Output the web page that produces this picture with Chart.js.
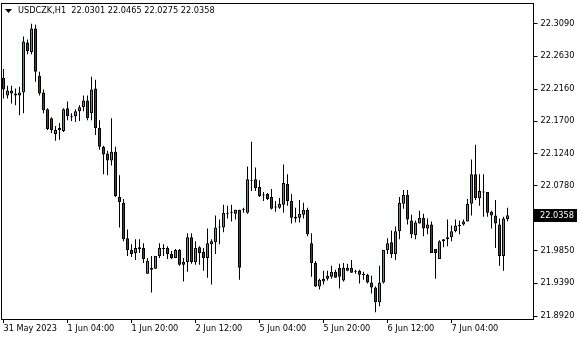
<!DOCTYPE html>
<html>
<head>
<meta charset="utf-8">
<script src="https://cdn.jsdelivr.net/npm/chart.js@4.4.0/dist/chart.umd.min.js"></script>
<style>
  html, body { margin: 0; padding: 0; background: #fff; }
  canvas { display: block; }
</style>
</head>
<body>
<canvas id="chart" width="580" height="340"></canvas>
<script>
const symbol = 'USDCZK,H1';

// hourly bars from 31 May 2023 12:00 (weekend skipped)
const opens = [
  22.2322, 22.2068, 22.2139, 22.2096, 22.2068, 22.2110, 22.2827, 22.2687, 22.3024, 22.2350,
  22.2110, 22.1871, 22.1745, 22.1520, 22.1576, 22.1562, 22.1885, 22.1773, 22.1773, 22.1843,
  22.1900, 22.1998, 22.1815, 22.2167, 22.1604, 22.1337, 22.1239, 22.1141, 22.1267, 22.0620,
  22.0536, 22.0030, 21.9862, 21.9820, 21.9904, 21.9890, 21.9525, 21.9609, 21.9595, 21.9777,
  21.9876, 21.9890, 21.9806, 21.9749, 21.9862, 21.9651, 21.9693, 22.0044, 21.9693, 21.9904,
  21.9834, 21.9749, 21.9946, 21.9974, 22.0185, 22.0185, 22.0396, 22.0396, 22.0382, 22.0438,
  22.0452, 22.0396, 22.0860, 22.0874, 22.0761, 22.0648, 22.0662, 22.0620, 22.0480, 22.0466,
  22.0508, 22.0804, 22.0564, 22.0339, 22.0325, 22.0368, 22.0438, 21.9960, 21.9679, 21.9342,
  21.9412, 21.9454, 21.9482, 21.9553, 21.9609, 21.9426, 21.9567, 21.9609, 21.9567, 21.9567,
  21.9510, 21.9510, 21.9398, 21.9327, 21.9116, 21.9398, 21.9862, 21.9974, 21.9806, 22.0129,
  22.0522, 22.0648, 22.0283, 22.0073, 22.0241, 22.0325, 22.0171, 22.0227, 21.9876, 21.9735,
  21.9988, 22.0016, 22.0044, 22.0129, 22.0213, 22.0227, 22.0269, 22.0522, 22.0944, 22.0606,
  22.0691, 22.0691, 22.0410, 22.0354, 22.0227, 21.9777, 22.0301
];
const highs = [
  22.2448, 22.2209, 22.2209, 22.2167, 22.2195, 22.2912, 22.2869, 22.3094, 22.3080, 22.2406,
  22.2153, 22.1885, 22.1759, 22.1633, 22.1675, 22.1885, 22.1984, 22.1815, 22.1871, 22.1928,
  22.2068, 22.2068, 22.2336, 22.2293, 22.1717, 22.1351, 22.1281, 22.1745, 22.1337, 22.0930,
  22.0592, 22.0157, 21.9946, 22.0016, 22.0016, 21.9960, 21.9749, 21.9777, 21.9777, 21.9960,
  21.9946, 21.9918, 21.9848, 21.9876, 21.9876, 21.9749, 22.0101, 22.0101, 21.9988, 21.9918,
  21.9890, 22.0171, 22.0016, 22.0354, 22.0297, 22.0508, 22.0494, 22.0508, 22.0438, 22.0438,
  22.0466, 22.1056, 22.1408, 22.1042, 22.0860, 22.0691, 22.0677, 22.0733, 22.0564, 22.0606,
  22.1084, 22.0944, 22.0662, 22.0466, 22.0578, 22.0536, 22.0466, 22.0101, 21.9707, 21.9454,
  21.9567, 21.9567, 21.9637, 21.9581, 21.9665, 21.9679, 21.9665, 21.9721, 21.9581, 21.9581,
  21.9553, 21.9525, 21.9496, 21.9342, 21.9637, 21.9862, 22.0030, 22.0143, 22.0199, 22.0620,
  22.0719, 22.0719, 22.0368, 22.0283, 22.0424, 22.0382, 22.0311, 22.0269, 21.9876, 22.0002,
  22.0016, 22.0297, 22.0213, 22.0297, 22.0283, 22.0297, 22.0592, 22.1155, 22.1365, 22.0944,
  22.0944, 22.0691, 22.0424, 22.0578, 22.0311, 22.0339, 22.0465
];
const lows = [
  22.2026, 22.2026, 22.1956, 22.1928, 22.1787, 22.1815, 22.2659, 22.2659, 22.2265, 22.2068,
  22.1815, 22.1576, 22.1534, 22.1422, 22.1436, 22.1548, 22.1717, 22.1703, 22.1689, 22.1703,
  22.1843, 22.1717, 22.1717, 22.1506, 22.1295, 22.0944, 22.0930, 22.1070, 22.0620, 22.0185,
  21.9988, 21.9777, 21.9763, 21.9721, 21.9820, 21.9679, 21.9525, 21.9257, 21.9595, 21.9749,
  21.9777, 21.9735, 21.9735, 21.9749, 21.9637, 21.9412, 21.9553, 21.9665, 21.9651, 21.9651,
  21.9567, 21.9468, 21.9370, 21.9806, 21.9946, 22.0115, 22.0311, 22.0269, 22.0297, 21.9440,
  22.0396, 22.0382, 22.0705, 22.0705, 22.0620, 22.0564, 22.0578, 22.0440, 22.0410, 22.0452,
  22.0396, 22.0494, 22.0241, 22.0255, 22.0255, 22.0311, 22.0058, 21.9482, 21.9335, 21.9299,
  21.9370, 21.9426, 21.9454, 21.9468, 21.9313, 21.9412, 21.9560, 21.9539, 21.9525, 21.9384,
  21.9440, 21.9384, 21.9243, 21.8976, 21.9060, 21.9384, 21.9806, 21.9749, 21.9721, 22.0016,
  22.0452, 22.0227, 22.0030, 22.0016, 22.0241, 22.0058, 22.0087, 21.9820, 21.9454, 21.9735,
  21.9904, 21.9918, 21.9988, 22.0115, 22.0087, 22.0213, 22.0269, 22.0354, 22.0578, 22.0494,
  22.0339, 22.0339, 22.0171, 21.9890, 21.9637, 21.9567, 22.0275
];
const closes = [
  22.2153, 22.2139, 22.2096, 22.2068, 22.2110, 22.2841, 22.2701, 22.3024, 22.2406, 22.2096,
  22.1857, 22.1590, 22.1576, 22.1576, 22.1604, 22.1871, 22.1773, 22.1759, 22.1843, 22.1900,
  22.1998, 22.1745, 22.2153, 22.1604, 22.1337, 22.1225, 22.1141, 22.1267, 22.0634, 22.0550,
  22.0016, 21.9862, 21.9806, 21.9890, 21.9876, 21.9735, 21.9707, 21.9581, 21.9777, 21.9890,
  21.9890, 21.9806, 21.9749, 21.9862, 21.9651, 21.9693, 22.0044, 21.9693, 21.9890, 21.9820,
  21.9749, 21.9960, 21.9988, 22.0185, 22.0190, 22.0396, 22.0382, 22.0410, 22.0438, 21.9609,
  22.0438, 22.0874, 22.0846, 22.0747, 22.0634, 22.0640, 22.0592, 22.0452, 22.0470, 22.0522,
  22.0818, 22.0564, 22.0325, 22.0311, 22.0382, 22.0438, 22.0087, 21.9679, 21.9342, 21.9440,
  21.9454, 21.9496, 21.9553, 21.9468, 21.9482, 21.9609, 21.9609, 21.9539, 21.9553, 21.9510,
  21.9505, 21.9398, 21.9327, 21.9116, 21.9398, 21.9862, 21.9960, 21.9806, 22.0129, 22.0536,
  22.0648, 22.0297, 22.0087, 22.0255, 22.0325, 22.0171, 22.0227, 21.9820, 21.9820, 21.9988,
  22.0016, 22.0044, 22.0129, 22.0213, 22.0206, 22.0269, 22.0522, 22.0944, 22.0606, 22.0705,
  22.0685, 22.0396, 22.0354, 22.0241, 21.9777, 22.0311, 22.0358
];

const yTicks = [22.3090, 22.2630, 22.2160, 22.1700, 22.1240, 22.0780, 21.9850, 21.9390, 21.8920];
const tickTimes = ['31 May 12:00', '1 Jun 04:00', '1 Jun 20:00', '2 Jun 12:00', '5 Jun 04:00', '5 Jun 20:00', '6 Jun 12:00', '7 Jun 04:00'];
const tickLabels = ['31 May 2023', '1 Jun 04:00', '1 Jun 20:00', '2 Jun 12:00', '5 Jun 04:00', '5 Jun 20:00', '6 Jun 12:00', '7 Jun 04:00'];

const months = ['Jan', 'Feb', 'Mar', 'Apr', 'May', 'Jun', 'Jul', 'Aug', 'Sep', 'Oct', 'Nov', 'Dec'];
const font = "'DejaVu Sans', sans-serif";
const bullColor = '#2fb62f';
const bearColor = '#d40000';

function pad2(n) { return n < 10 ? '0' + n : '' + n; }

// bar times, skipping saturday and sunday
var categories = [];
var t = new Date(2023, 4, 31, 12, 0);
while (categories.length < opens.length) {
  var wd = t.getDay();
  if (wd !== 0 && wd !== 6) {
    categories.push(t.getDate() + ' ' + months[t.getMonth()] + ' ' + pad2(t.getHours()) + ':00');
  }
  t.setHours(t.getHours() + 1);
}
// empty shift area on the right like the terminal
var labels = categories.concat(['', '', '', '', '', '']);

var bodyColors = opens.map((o, i) => closes[i] > o ? bullColor : (closes[i] < o ? bearColor : '#000'));

const terminalLook = {
  id: 'terminalLook',
  afterDraw(chart) {
    const ctx = chart.ctx;
    const a = chart.chartArea;
    ctx.save();
    // frame
    ctx.strokeStyle = '#000';
    ctx.lineWidth = 1;
    ctx.strokeRect(1.5, 3.5, Math.round(a.right - 1.5), 316);

    // header
    ctx.fillStyle = '#000';
    ctx.beginPath();
    ctx.moveTo(5, 9);
    ctx.lineTo(12, 9);
    ctx.lineTo(8.5, 13);
    ctx.closePath();
    ctx.fill();
    ctx.font = '8.2px ' + font;
    ctx.textBaseline = 'middle';
    ctx.textAlign = 'left';
    var last = opens.length - 1;
    ctx.fillText(symbol + '  ' + opens[last].toFixed(4) + ' ' + highs[last].toFixed(4) + ' ' +
      lows[last].toFixed(4) + ' ' + closes[last].toFixed(4), 18, 11);

    // current price label
    var y = Math.round(chart.scales.y.getPixelForValue(closes[last]));
    ctx.fillRect(534, y - 6, 43, 13);
    ctx.fillStyle = '#fff';
    ctx.fillText(closes[last].toFixed(4), 540, y + 0.5);
    ctx.restore();
  }
};

new Chart(document.getElementById('chart'), {
  type: 'bar',
  data: {
    labels: labels,
    datasets: [
      {
        label: 'body',
        data: opens.map((o, i) => [o, closes[i]]),
        backgroundColor: bodyColors,
        borderColor: '#000',
        borderWidth: 1,
        borderSkipped: false,
        barThickness: 3,
        minBarLength: 1,
        inflateAmount: 0,
        grouped: false
      },
      {
        label: 'wick',
        data: lows.map((l, i) => [l, highs[i]]),
        backgroundColor: '#000',
        borderWidth: 0,
        barThickness: 1,
        minBarLength: 1,
        inflateAmount: 0,
        grouped: false
      }
    ]
  },
  plugins: [terminalLook],
  options: {
    responsive: false,
    animation: false,
    devicePixelRatio: 1,
    layout: { padding: { left: 1.5, top: 3, right: 0, bottom: 0 } },
    plugins: {
      legend: { display: false },
      tooltip: { enabled: false }
    },
    scales: {
      x: {
        offset: true,
        grid: { display: true, drawOnChartArea: false, offset: false, tickLength: 4, color: '#000' },
        border: { display: false },
        ticks: {
          autoSkip: false,
          maxRotation: 0,
          align: 'start',
          padding: 1,
          color: '#000',
          font: { family: font, size: 8.2 },
          callback: function (value) {
            return tickLabels[tickTimes.indexOf(labels[value])];
          }
        },
        afterBuildTicks: function (scale) {
          scale.ticks = scale.ticks.filter(tk => tickTimes.includes(labels[tk.value]));
        },
        afterFit: function (scale) { scale.height = 21; }
      },
      y: {
        position: 'right',
        min: 21.8878,
        max: 22.3319,
        grid: { display: true, drawOnChartArea: false, tickLength: 4, color: '#000' },
        border: { display: false },
        ticks: {
          padding: 3,
          color: '#000',
          font: { family: font, size: 8.2 },
          callback: v => v.toFixed(4)
        },
        afterBuildTicks: function (scale) {
          scale.ticks = yTicks.map(v => ({ value: v }));
        },
        afterFit: function (scale) { scale.width = 46.5; }
      }
    }
  }
});
</script>
</body>
</html>
